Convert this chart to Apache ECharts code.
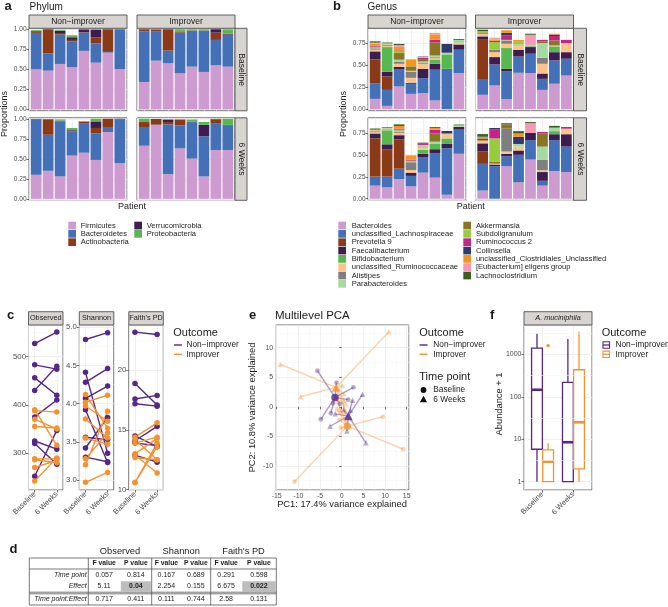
<!DOCTYPE html>
<html>
<head>
<meta charset="utf-8">
<script src="https://cdn.jsdelivr.net/npm/echarts@6.0.0/dist/echarts.min.js"></script>
<style>
html,body{margin:0;padding:0;background:#ffffff;}
#main{width:668px;height:607px;}
</style>
</head>
<body>
<div id="main"></div>
<script>
// ================= DATA =================
const patients = ['1','2','3','4','5','6','7','8'];
const outcomes = ['Non\u2212improver', 'Improver'];
const timeLabels = ['Baseline', '6 Weeks'];
// bar values: NI baseline (8) | Improver baseline (8) | NI 6 weeks (8) | Improver 6 weeks (8)
const phylumNames = ['Firmicutes','Bacteroidetes','Actinobacteria','Verrucomicrobia','Proteobacteria'];
const firmicutes      = [0.50,0.483,0.567,0.525,0.73,0.583,0.708,0.504, 0.342,0.608,0.575,0.45,0.533,0.467,0.55,0.533, 0.30,0.35,0.28,0.54,0.576,0.486,0.835,0.444, 0.663,0.922,0.309,0.63,0.502,0.28,0.609,0.609];
const bacteroidetes   = [0.455,0.217,0.366,0.321,0.228,0.242,0.009,0.49, 0.63,0.362,0.158,0.508,0.447,0.513,0.317,0.396, 0.688,0.45,0.687,0.305,0.37,0.329,0.062,0.55, 0.234,0.005,0.621,0.288,0.457,0.502,0.329,0.309];
const actinobacteria  = [0.02,0.30,0.02,0.021,0.005,0.075,0.283,0, 0.028,0.028,0.267,0.015,0.005,0.005,0.091,0.005, 0.005,0.19,0.01,0.01,0.015,0.07,0.103,0, 0.062,0.06,0.03,0.072,0.005,0,0.053,0];
const verrucomicrobia = [0.005,0,0.03,0.033,0.035,0.095,0,0.005, 0,0,0,0,0,0,0.042,0.01, 0.005,0.005,0,0.005,0.005,0.082,0,0.006, 0,0.01,0.03,0,0,0.144,0.005,0.005];
const proteobacteria  = [0.01,0,0.01,0.025,0,0.005,0,0, 0,0.002,0,0.027,0.015,0.015,0,0.055, 0,0,0.015,0.025,0,0.033,0,0, 0.041,0,0,0.005,0.026,0.033,0.004,0.077];

const genusNames = ['Bacteroides','unclassified_Lachnospiraceae','Prevotella 9','Faecalibacterium','Bifidobacterium','unclassified_Ruminococcaceae','Alistipes','Parabacteroides','Akkermansia','Subdoligranulum','Ruminococcus 2','Collinsella','unclassified_Clostridiales_Unclassified','[Eubacterium] eligens group','Lachnoclostridium'];
const gBacteroides   = [0.118,0.038,0.259,0.175,0.183,0.10,0,0.411, 0.164,0.27,0.114,0.415,0.411,0.22,0.29,0.384, 0.149,0.13,0.223,0.141,0.297,0.241,0.045,0.512, 0.093,0,0.371,0.186,0.446,0.149,0.316,0.304];
const gLachno        = [0.179,0.182,0.19,0.115,0.171,0.35,0.46,0.267, 0.171,0.24,0.32,0.185,0.221,0.126,0.266,0.191, 0.103,0.122,0.119,0.119,0.178,0.279,0.531,0.275, 0.304,0.371,0.112,0.314,0.222,0.055,0.352,0.29];
const gPrevotella    = [0.27,0.153,0.008,0,0,0,0,0, 0.457,0,0,0,0,0,0,0, 0.435,0.312,0.334,0,0,0,0,0, 0.141,0,0,0,0,0,0,0];
const gFaecali       = [0.092,0.053,0.025,0.012,0.106,0.068,0,0.06, 0.038,0.084,0.026,0.078,0.076,0.061,0.094,0.075, 0.056,0.056,0.048,0.037,0.037,0.044,0.048,0.03, 0.093,0.019,0.029,0.05,0.082,0.10,0.067,0.141];
const gBifido        = [0,0.282,0,0,0,0.049,0.164,0, 0,0,0.237,0,0.01,0,0.066,0, 0,0.16,0,0,0.045,0.06,0.063,0, 0,0,0,0,0,0,0.035,0];
const gRuminococcaceae = [0.02,0.015,0.036,0.056,0.058,0.015,0,0.01, 0.03,0.056,0.049,0.042,0,0.111,0.01,0.104, 0.015,0.01,0.025,0.03,0.02,0,0.056,0, 0.03,0.01,0.026,0.044,0,0.02,0,0.063];
const gAlistipes     = [0.015,0.01,0.026,0.07,0.01,0.01,0,0, 0,0.027,0.031,0,0,0.068,0,0, 0.01,0.005,0.01,0.089,0,0,0,0, 0,0,0.26,0,0,0.122,0,0];
const gParabacteroides = [0.01,0.01,0.02,0.01,0.015,0.02,0.02,0.042, 0,0,0.01,0.018,0.01,0.168,0,0, 0.01,0.01,0.02,0.01,0.036,0.026,0,0.02, 0,0,0,0.03,0,0.148,0.04,0];
const gAkkermansia   = [0.01,0,0.076,0.05,0.02,0.15,0,0, 0.015,0,0.013,0,0,0.02,0.058,0, 0,0,0.01,0.01,0,0.093,0,0, 0.01,0.02,0.049,0,0,0.149,0,0];
const gSubdoligranulum = [0,0,0.02,0,0,0,0,0, 0.015,0.088,0,0.03,0,0,0,0, 0,0,0,0,0,0,0,0, 0,0.267,0,0,0,0,0,0];
const gRuminococcus2 = [0.01,0.005,0.01,0,0.023,0.03,0,0, 0,0.015,0.04,0,0,0.016,0.05,0.036, 0,0,0.01,0.01,0.02,0.044,0,0, 0,0.10,0,0,0,0.017,0,0.019];
const gCollinsella   = [0,0,0,0,0,0,0.10,0, 0,0,0.03,0,0,0,0.016,0, 0,0,0,0,0,0,0.029,0, 0.015,0.019,0,0.08,0,0,0,0];
const gClostridiales = [0.025,0.005,0.04,0.08,0,0.06,0,0, 0,0.015,0.03,0.022,0,0,0.01,0, 0.01,0.005,0.03,0.044,0,0.02,0,0, 0.02,0,0,0.04,0,0,0,0];
const gEubacterium   = [0.01,0.005,0.02,0,0.01,0.005,0,0, 0,0.02,0,0,0.12,0,0,0, 0,0,0,0.01,0,0,0,0, 0,0,0,0,0.111,0,0,0];
const gLachnoclostridium = [0.015,0.005,0.014,0,0.005,0.005,0,0.01, 0.016,0,0,0,0.012,0,0,0, 0.012,0.007,0.018,0,0.006,0.01,0,0.008, 0.03,0,0.013,0.026,0.012,0,0.02,0];

// alpha diversity (patients 1-8 per outcome)
const obsBaseNI = [527,483,456,430,375,325,320,252];
const obs6wNI   = [551,474,420,480,410,308,277,347];
const obsBaseI  = [390,388,370,355,288,286,270,242];
const obs6wI    = [316,385,350,352,288,280,285,290];
const shanBaseNI = [4.84,4.41,4.28,4.07,3.92,3.56,3.42,3.30];
const shan6wNI   = [4.93,3.35,4.46,4.23,3.23,3.53,3.82,3.24];
const shanBaseI  = [4.12,4.02,3.97,3.80,3.55,3.28,3.20,2.97];
const shan6wI    = [3.68,4.11,3.77,3.55,3.47,3.62,3.90,3.10];
const faithBaseNI = [23.2,18.9,17.6,17.2,14.5,14.1,13.9,12.9];
const faith6wNI   = [23.0,17.1,17.9,17.0,13.6,15.3,13.7,12.3];
const faithBaseI  = [14.4,14.2,13.0,12.9,12.7,10.6,10.6,13.9];
const faith6wI    = [15.6,12.5,14.3,11.4,12.5,13.6,13.9,14.4];

// multilevel PCA scores
const pcaNIBaseX = [-5.6,-4.8,2.7,-1.2,-2.5,-2.0,1.5,-0.4];
const pcaNIBaseY = [6.1,-2.1,3.3,4.1,-1.1,0.6,1.2,0.5];
const pcaNI6wX   = [5.6,4.8,-2.7,1.2,2.5,2.0,-1.5,0.4];
const pcaNI6wY   = [-6.1,2.1,-3.3,-4.1,1.1,-0.6,-1.2,-0.5];
const pcaIBaseX  = [-10.9,14.2,9.5,-0.2,-0.5,-1.0,0.3,-0.9];
const pcaIBaseY  = [-12.7,-7.2,-1.7,-3.6,-2.2,-0.5,0.9,0.8];
const pcaI6wX    = [10.9,-14.2,-9.5,0.2,0.5,1.0,-0.3,0.9];
const pcaI6wY    = [12.7,7.2,1.7,3.6,2.2,0.5,-0.9,-0.8];
const centroidNI = [[-1.54,1.58],[1.54,-1.58]];   // baseline, 6 weeks
const centroidI  = [[1.31,-3.28],[-1.31,3.28]];

// A. muciniphila boxplot stats: [min, Q1, median, Q3, max] per time point
const boxNI = [[1,5.8,146,1400,3090],[1,1,8.5,218,2300]];
const boxI  = [[1,1,2.96,5.6,8.05],[1,2.0,25,433,3380]];
const outlierI = [[1,1600]];
const logMinorBreaks = [3.162,31.62,316.2,3162];

// table d
const tableGroups = ['Observed','Shannon',"Faith's PD"];
const tableRowNames = ['Time point','Effect','Time point:Effect'];
const tableHeader = ['F value','P value'];
const rowTimePoint = ['0.057','0.814','0.167','0.689','0.291','0.598'];
const rowEffect    = ['5.11','0.04','2.254','0.155','6.675','0.022'];
const rowInteraction = ['0.717','0.411','0.111','0.744','2.58','0.131'];

// ================= STYLE =================
const FF = '"Liberation Sans", Arial, Helvetica, sans-serif';
const fnt = (s, w, st) => `${st||'normal'} ${w||'normal'} ${s}px ${FF}`;
const PURPLE = '#542788', ORANGE = '#F5922F';
const GRIDC = '#EBEBEB', MINORC = '#F4F4F4', BORDER = '#3d3d3d', TICKC = '#333333', LABC = '#4D4D4D';
const STRIPF = '#D8D5D1';
const phylumColors = ['#CD9BCF','#4470B8','#8B3A18','#3F1C4F','#56B84F'];
const genusColors = ['#CD9BCF','#4470B8','#8B3A18','#3F1C4F','#56B84F','#FDC38A','#7F7F7F','#A6D9A0','#8A7425','#98CC3C','#C7218B','#2D3A6B','#F7941D','#F49AB4','#3A5F24'];
const phylumArrays = [firmicutes,bacteroidetes,actinobacteria,verrucomicrobia,proteobacteria];
const genusArrays = [gBacteroides,gLachno,gPrevotella,gFaecali,gBifido,gRuminococcaceae,gAlistipes,gParabacteroides,gAkkermansia,gSubdoligranulum,gRuminococcus2,gCollinsella,gClostridiales,gEubacterium,gLachnoclostridium];

const grids = [], xAxes = [], yAxes = [], series = [], graphics = [];
const gridBase = {containLabel:false, outerBoundsMode:'none'};

function txt(x, y, text, size, o) {
  o = o || {};
  graphics.push({type:'text', x:x, y:y, rotation:o.rot||0, z:100, silent:true,
    style:{text:text, fill:o.color||'#1a1a1a', font:fnt(size,o.weight,o.style),
      textAlign:o.align||'left', textVerticalAlign:o.va||'middle', align:o.align||'left', verticalAlign:o.va||'middle'}});
}
function rect(x, y, w, h, fill, stroke, lw) {
  graphics.push({type:'rect', z:99, silent:true, shape:{x:x,y:y,width:w,height:h},
    style:{fill:fill||'none', stroke:stroke||null, lineWidth:lw||0}});
}
function seg(x1, y1, x2, y2, color, lw) {
  graphics.push({type:'line', z:100, silent:true, shape:{x1:x1,y1:y1,x2:x2,y2:y2}, style:{stroke:color, lineWidth:lw||1}});
}
function strip(x, y, w, h, text, size, o) {
  rect(x, y, w, h, STRIPF, BORDER, 0.8);
  o = o || {};
  txt(x + w/2, y + h/2, text, size, Object.assign({align:'center'}, o));
}
function yAxisStyle(show, size, fmt) {
  return {axisLine:{show:false},
    axisTick:{show:show, length:2.5, lineStyle:{color:TICKC, width:0.7}},
    axisLabel:{show:show, fontSize:size, color:LABC, fontFamily:FF, margin:2.5, showMinLabel:false, showMaxLabel:false, formatter:fmt},
    splitLine:{show:true, lineStyle:{color:GRIDC, width:0.8}},
    minorTick:{show:false, splitNumber:2},
    minorSplitLine:{show:true, lineStyle:{color:MINORC, width:0.5}}};
}
function timeFmt(v) { const r = Math.round(v); return Math.abs(v - r) < 1e-6 && timeLabels[r-1] ? timeLabels[r-1] : ''; }

// ================= PANELS a & b (stacked bars) =================
const BAR_W = 98, ROW_TOP = [28.3, 117.8], ROW_H = 82.5;
const facetLayout = [{col:0,row:0,off:0},{col:1,row:0,off:8},{col:0,row:1,off:16},{col:1,row:1,off:24}];
function barPanel(left, top, W, H, yMin, yMax, arrays, colors, off, showY) {
  const u = W / 8.2;
  const gi = grids.length;
  grids.push(Object.assign({left:left, top:top, width:W, height:H, show:true, backgroundColor:'#fff', borderColor:BORDER, borderWidth:0.8}, gridBase));
  xAxes.push({gridIndex:gi, type:'value', min:0.4, max:8.6, minInterval:1, maxInterval:1,
    axisLine:{show:false}, axisTick:{show:false}, axisLabel:{show:false},
    splitLine:{show:true, lineStyle:{color:GRIDC, width:0.8}}});
  yAxes.push(Object.assign({gridIndex:gi, type:'value', min:yMin, max:yMax, minInterval:0.25, maxInterval:0.25},
    yAxisStyle(showY, 6.5, v => v.toFixed(2))));
  const bi = grids.length;
  grids.push(Object.assign({left:left + 0.1*u, top:top, width:8*u, height:H, show:false}, gridBase));
  xAxes.push({gridIndex:bi, type:'category', data:patients, show:false, boundaryGap:true});
  yAxes.push({gridIndex:bi, type:'value', min:yMin, max:yMax, show:false});
  arrays.forEach((arr, k) => {
    series.push({type:'bar', xAxisIndex:bi, yAxisIndex:bi, stack:'s' + bi, barWidth:'90%', silent:true,
      data:arr.slice(off, off + 8), itemStyle:{color:colors[k]}});
  });
}
function barFigure(lefts, yMin, yMax, arrays, colors, rightStripX, rightStripW) {
  facetLayout.forEach(f => barPanel(lefts[f.col], ROW_TOP[f.row], BAR_W, ROW_H, yMin, yMax, arrays, colors, f.off, f.col === 0));
  strip(lefts[0], 15, BAR_W, 13.3, outcomes[0], 8.5);
  strip(lefts[1], 15, BAR_W, 13.3, outcomes[1], 8.5);
  strip(rightStripX, ROW_TOP[0], rightStripW, ROW_H, timeLabels[0], 8.5, {rot:-Math.PI/2});
  strip(rightStripX, ROW_TOP[1], rightStripW, ROW_H, timeLabels[1], 8.5, {rot:-Math.PI/2});
}
barFigure([29,137], -0.018, 1.012, phylumArrays, phylumColors, 235, 12);
barFigure([368,475.5], -0.018, 0.922, genusArrays, genusColors, 573.5, 13);

// titles a / b
txt(4.5, 6.6, 'a', 13, {weight:'bold'});
txt(29.5, 7.4, 'Phylum', 10);
txt(333, 6.6, 'b', 13, {weight:'bold'});
txt(367.5, 7.4, 'Genus', 10);
txt(5, 114, 'Proportions', 9, {align:'center', rot:Math.PI/2});
txt(343.5, 114, 'Proportions', 9, {align:'center', rot:Math.PI/2});
txt(132, 207, 'Patient', 9, {align:'center'});
txt(470.7, 206.5, 'Patient', 9, {align:'center'});

// legends a / b
phylumNames.forEach((n, i) => {
  const col = i < 3 ? 0 : 1, row = i < 3 ? i : i - 3;
  const sx = col ? 134.3 : 68.3, sy = 221.7 + row * 8.3;
  rect(sx, sy, 7.7, 7.7, phylumColors[i]);
  txt(sx + 12.4, sy + 3.9, n, 7.6, {color:'#222'});
});
genusNames.forEach((n, i) => {
  const col = i < 8 ? 0 : 1, row = i < 8 ? i : i - 8;
  const sx = col ? 463.3 : 338.3, sy = 221.7 + row * 8.33;
  rect(sx, sy, 7.7, 7.7, genusColors[i]);
  txt(sx + (col ? 12.6 : 13.4), sy + 3.9, n, 7.6, {color:'#222'});
});

// ================= PANEL c (alpha diversity) =================
function pairData(b, w) {
  const d = [];
  b.forEach((v, i) => { d.push([1, v], [2, w[i]], [1, '-']); });
  return d;
}
function linePanel(left, name, yMin, yMax, step, fmt, bNI, wNI, bI, wI) {
  const gi = grids.length;
  grids.push(Object.assign({left:left, top:325, width:34.5, height:165, show:true, backgroundColor:'#fff', borderColor:BORDER, borderWidth:0.8}, gridBase));
  xAxes.push({gridIndex:gi, type:'value', min:0.72, max:2.28, minInterval:1, maxInterval:1,
    axisLine:{show:false}, axisTick:{show:true, length:2.5, lineStyle:{color:TICKC, width:0.7}},
    axisLabel:{show:true, rotate:45, fontSize:7.5, color:LABC, fontFamily:FF, margin:3, showMinLabel:false, showMaxLabel:false, formatter:timeFmt},
    splitLine:{show:true, lineStyle:{color:GRIDC, width:0.8}}});
  yAxes.push(Object.assign({gridIndex:gi, type:'value', min:yMin, max:yMax, minInterval:step, maxInterval:step},
    yAxisStyle(true, 7.8, fmt)));
  [[bNI, wNI, PURPLE], [bI, wI, ORANGE]].forEach(s => {
    series.push({type:'line', xAxisIndex:gi, yAxisIndex:gi, data:pairData(s[0], s[1]), connectNulls:false, silent:true,
      symbol:'circle', symbolSize:5.5, showSymbol:true, lineStyle:{color:s[2], width:1.4}, itemStyle:{color:s[2]}, z:3});
  });
  strip(left, 311.7, 34.5, 13.3, name, 7.3);
}
linePanel(28.5, 'Observed', 223.4, 565.6, 100, v => String(Math.round(v)), obsBaseNI, obs6wNI, obsBaseI, obs6wI);
linePanel(79.3, 'Shannon', 2.87, 5.03, 0.5, v => v.toFixed(1), shanBaseNI, shan6wNI, shanBaseI, shan6wI);
linePanel(128.8, "Faith's PD", 9.97, 23.8, 5, v => String(Math.round(v)), faithBaseNI, faith6wNI, faithBaseI, faith6wI);
txt(7, 315.5, 'c', 13, {weight:'bold'});
// legend c
txt(173.3, 333, 'Outcome', 11);
seg(174, 345, 182, 345, PURPLE, 1.4);
seg(174, 354.3, 182, 354.3, ORANGE, 1.4);
txt(186.5, 345, outcomes[0], 8.3);
txt(186.5, 354.3, outcomes[1], 8.3);

// ================= PANEL e (multilevel PCA) =================
const eg = grids.length;
grids.push(Object.assign({left:275.7, top:325, width:133.3, height:165, show:true, backgroundColor:'#fff', borderColor:BORDER, borderWidth:0.8}, gridBase));
xAxes.push(Object.assign({gridIndex:eg, type:'value', min:-15.23, max:15.53, minInterval:5, maxInterval:5},
  yAxisStyle(true, 7, v => String(Math.round(v)))));
yAxes.push(Object.assign({gridIndex:eg, type:'value', min:-14.1, max:13.85, minInterval:5, maxInterval:5},
  yAxisStyle(true, 7, v => String(Math.round(v)))));
function starData(xs, ys, c) {
  const d = [];
  xs.forEach((x, i) => { d.push([c[0], c[1]], [x, ys[i]], [c[0], '-']); });
  return d;
}
const pcaGroups = [
  {xs:pcaNIBaseX, ys:pcaNIBaseY, c:centroidNI[0], col:PURPLE, la:'rgba(84,39,136,0.45)', pa:'rgba(84,39,136,0.5)', sym:'circle'},
  {xs:pcaNI6wX, ys:pcaNI6wY, c:centroidNI[1], col:PURPLE, la:'rgba(84,39,136,0.45)', pa:'rgba(84,39,136,0.5)', sym:'triangle'},
  {xs:pcaIBaseX, ys:pcaIBaseY, c:centroidI[0], col:ORANGE, la:'rgba(245,146,47,0.4)', pa:'rgba(245,146,47,0.45)', sym:'circle'},
  {xs:pcaI6wX, ys:pcaI6wY, c:centroidI[1], col:ORANGE, la:'rgba(245,146,47,0.4)', pa:'rgba(245,146,47,0.45)', sym:'triangle'}
];
pcaGroups.forEach(g => {
  series.push({type:'line', xAxisIndex:eg, yAxisIndex:eg, data:starData(g.xs, g.ys, g.c), connectNulls:false, showSymbol:false, symbol:'none', silent:true,
    lineStyle:{color:g.la, width:1.4}, z:2});
});
pcaGroups.forEach(g => {
  series.push({type:'scatter', xAxisIndex:eg, yAxisIndex:eg, data:g.xs.map((x, i) => [x, g.ys[i]]), symbol:g.sym, symbolSize:g.sym === 'circle' ? 4.8 : 5.5, silent:true,
    itemStyle:{color:g.pa}, z:3});
});
pcaGroups.forEach(g => {
  series.push({type:'scatter', xAxisIndex:eg, yAxisIndex:eg, data:[g.c], symbol:g.sym, symbolSize:g.sym === 'circle' ? 7.5 : 8.5, silent:true,
    itemStyle:{color:g.col}, z:4});
});
txt(249, 315.5, 'e', 13, {weight:'bold'});
txt(275, 315.8, 'Multilevel PCA', 11.5);
txt(342, 504.5, 'PC1: 17.4% variance explained', 9.3, {align:'center'});
txt(252.5, 407.5, 'PC2: 10.8% variance explained', 9.3, {align:'center', rot:Math.PI/2});
// legend e
txt(419.3, 333, 'Outcome', 11);
seg(419.5, 345, 427.5, 345, PURPLE, 1.4);
seg(419.5, 354.3, 427.5, 354.3, ORANGE, 1.4);
txt(433.3, 345, outcomes[0], 8.3);
txt(433.3, 354.3, outcomes[1], 8.3);
txt(419.3, 376.7, 'Time point', 11);
graphics.push({type:'circle', z:100, silent:true, shape:{cx:423.5, cy:390, r:2.9}, style:{fill:'#111'}});
graphics.push({type:'polygon', z:100, silent:true, shape:{points:[[423.5,395.8],[427.1,402.2],[419.9,402.2]]}, style:{fill:'#111'}});
txt(433.3, 390, timeLabels[0], 8.3);
txt(433.3, 399.3, timeLabels[1], 8.3);

// ================= PANEL f (A. muciniphila boxplot) =================
const fg = grids.length;
grids.push(Object.assign({left:524, top:325, width:68, height:165, show:true, backgroundColor:'#fff', borderColor:BORDER, borderWidth:0.8}, gridBase));
xAxes.push({gridIndex:fg, type:'value', min:0.4, max:2.6, minInterval:1, maxInterval:1,
  axisLine:{show:false}, axisTick:{show:true, length:2.5, lineStyle:{color:TICKC, width:0.7}},
  axisLabel:{show:true, rotate:45, fontSize:7.5, color:LABC, fontFamily:FF, margin:3, showMinLabel:false, showMaxLabel:false, formatter:timeFmt},
  splitLine:{show:true, lineStyle:{color:GRIDC, width:0.8}}});
yAxes.push({gridIndex:fg, type:'log', logBase:10, min:0.637, max:4898,
  axisLine:{show:false}, axisTick:{show:true, length:2.5, lineStyle:{color:TICKC, width:0.7}},
  axisLabel:{show:true, fontSize:7, color:LABC, fontFamily:FF, margin:2.5, showMinLabel:false, showMaxLabel:false, formatter:v => String(Math.round(v))},
  splitLine:{show:true, lineStyle:{color:GRIDC, width:0.8}}});
series.push({type:'line', xAxisIndex:fg, yAxisIndex:fg, data:[], silent:true, z:1,
  markLine:{silent:true, symbol:['none','none'], label:{show:false}, animation:false,
    lineStyle:{color:MINORC, width:0.6, type:'solid'}, data:logMinorBreaks.map(v => ({yAxis:v}))}});
function boxSeries(stats, color, dodge) {
  return {type:'custom', xAxisIndex:fg, yAxisIndex:fg, silent:true, z:3,
    data:stats.map((s, i) => [i + 1].concat(s)),
    renderItem:function (params, api) {
      const x = api.value(0) + dodge;
      const unit = api.coord([2, 1])[0] - api.coord([1, 1])[0];
      const half = unit * 0.175;
      const cx = api.coord([x, 1])[0];
      const yy = k => api.coord([x, api.value(k)])[1];
      const yLo = yy(1), yQ1 = yy(2), yMed = yy(3), yQ3 = yy(4), yHi = yy(5);
      return {type:'group', children:[
        {type:'line', shape:{x1:cx, y1:yHi, x2:cx, y2:yQ3}, style:{stroke:color, lineWidth:1.3}},
        {type:'line', shape:{x1:cx, y1:yQ1, x2:cx, y2:yLo}, style:{stroke:color, lineWidth:1.3}},
        {type:'rect', shape:{x:cx - half, y:yQ3, width:2 * half, height:Math.max(yQ1 - yQ3, 0.5)}, style:{fill:'#ffffff', stroke:color, lineWidth:1.3}},
        {type:'line', shape:{x1:cx - half, y1:yMed, x2:cx + half, y2:yMed}, style:{stroke:color, lineWidth:2.6}}
      ]};
    }};
}
series.push(boxSeries(boxNI, PURPLE, -0.18));
series.push(boxSeries(boxI, ORANGE, 0.18));
series.push({type:'custom', xAxisIndex:fg, yAxisIndex:fg, silent:true, z:4, data:outlierI,
  renderItem:function (params, api) {
    const p = api.coord([api.value(0) + 0.18, api.value(1)]);
    return {type:'circle', shape:{cx:p[0], cy:p[1], r:1.7}, style:{fill:ORANGE}};
  }});
strip(524, 311.7, 68, 13.3, 'A. muciniphila', 7.3, {style:'italic'});
txt(490, 315.5, 'f', 13, {weight:'bold'});
txt(499, 404, 'Abundance + 1', 9.3, {align:'center', rot:Math.PI/2});
// legend f
txt(601.7, 333, 'Outcome', 11);
[[PURPLE, 345], [ORANGE, 354.3]].forEach((c, i) => {
  rect(603, c[1] - 3.2, 6.5, 6.4, '#fff', c[0], 1.1);
  seg(603, c[1], 609.5, c[1], c[0], 1.3);
  txt(615.5, c[1], outcomes[i], 8.3);
});

// ================= PANEL d (table) =================
txt(9.5, 549, 'd', 13, {weight:'bold'});
const colX = [29.3, 88.3, 120, 151.7, 181, 210.7, 241.5, 276.3];
const rowY = [558, 569, 580.5, 592.2, 593.8, 605];
const rowsTxt = [rowTimePoint, rowEffect, rowInteraction];
const rowCenters = [574.8, 586.3, 599.4];
// highlighted significant P values
rowsTxt.forEach((r, ri) => r.forEach((v, ci) => {
  if (ci % 2 === 1 && parseFloat(v) < 0.05) {
    const top = ri === 2 ? rowY[4] : rowY[ri + 1];
    const bot = ri === 2 ? rowY[5] : rowY[ri + 2];
    rect(colX[ci + 1] + 0.8, top + 0.8, colX[ci + 2] - colX[ci + 1] - 1.6, bot - top - 1.6, '#BDBDBD');
  }
}));
tableGroups.forEach((g, i) => txt((colX[1 + 2*i] + colX[3 + 2*i]) / 2, 551, g, 9.3, {align:'center'}));
rect(colX[0], rowY[0], colX[7] - colX[0], rowY[5] - rowY[0], 'none', '#555', 0.8);
seg(colX[0], rowY[1], colX[7], rowY[1], '#555', 0.8);
seg(colX[0], rowY[3], colX[7], rowY[3], '#555', 0.8);
seg(colX[0], rowY[4], colX[7], rowY[4], '#555', 0.8);
[1, 3, 5].forEach(k => seg(colX[k], rowY[0], colX[k], rowY[5], '#555', 0.8));
for (let c = 0; c < 6; c++) {
  txt((colX[c + 1] + colX[c + 2]) / 2, 563.6, tableHeader[c % 2], 6.8, {align:'center', weight:'bold'});
}
tableRowNames.forEach((n, ri) => {
  txt(86.6, rowCenters[ri], n, 7, {align:'right', style:'italic'});
  rowsTxt[ri].forEach((v, ci) => {
    const sig = ci % 2 === 1 && parseFloat(v) < 0.05;
    txt((colX[ci + 1] + colX[ci + 2]) / 2, rowCenters[ri], v, 7, {align:'center', weight:sig ? 'bold' : 'normal', color:'#222'});
  });
});

// ================= RENDER =================
const chart = echarts.init(document.getElementById('main'), null, {renderer:'canvas', width:668, height:607});
chart.setOption({
  animation:false,
  backgroundColor:'#ffffff',
  textStyle:{fontFamily:FF},
  grid:grids, xAxis:xAxes, yAxis:yAxes, series:series,
  graphic:{elements:graphics}
});
</script>
</body>
</html>
